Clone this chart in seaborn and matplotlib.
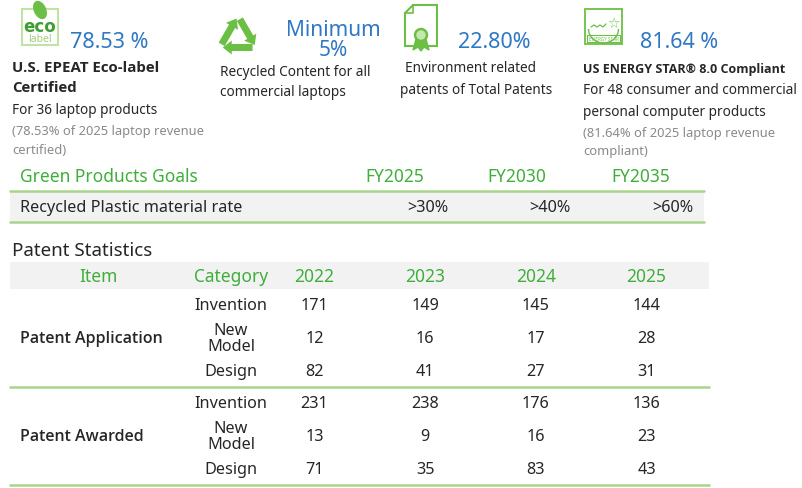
import numpy as np
import pandas as pd
import matplotlib
matplotlib.use("Agg")
import matplotlib.pyplot as plt
import seaborn as sns
from matplotlib.colors import ListedColormap
from matplotlib.patches import Rectangle, Circle, Polygon, Ellipse, Arc, FancyArrow

sns.set_theme(style="white")
plt.rcParams['font.family'] = ['Noto Sans', 'DejaVu Sans']

# ---- values ----
headline_values = ["78.53 %", "Minimum\n5%", "22.80%", "81.64 %"]
goal_item = "Recycled Plastic material rate"
goal_years = ["FY2025", "FY2030", "FY2035"]
goal_rates = [">30%", ">40%", ">60%"]
patent_years = ["2022", "2023", "2024", "2025"]
patent_items = ["Patent Application", "Patent Awarded"]
patent_categories = ["Invention", "New\nModel", "Design"]
application_counts = [[171, 149, 145, 144],
                      [12, 16, 17, 28],
                      [82, 41, 27, 31]]
awarded_counts = [[231, 238, 176, 136],
                  [13, 9, 16, 23],
                  [71, 35, 83, 43]]

idx = pd.MultiIndex.from_product([patent_items, patent_categories])
patents = pd.DataFrame(application_counts + awarded_counts, index=idx, columns=patent_years)

BLUE = "#2f78c4"
GREEN = "#3fae3a"
ICON = "#6cbf45"
LINE = "#a9d48c"
GREYBG = "#f2f2f2"
DARK = "#262626"
GREY = "#8a8a8a"
BODY = ['Noto Sans', 'DejaVu Sans']
BOLD = ['Open Sans', 'DejaVu Sans']

W, H = 803, 489
fig = plt.figure(figsize=(W / 100, H / 100), dpi=100)
ax = fig.add_axes([0, 0, 1, 1])
ax.set_xlim(0, W)
ax.set_ylim(H, 0)
ax.axis("off")

def txt(x, y, s, size, color=DARK, weight="normal", ha="left", family=None, **kw):
    if family is None:
        family = BOLD if weight not in ("normal", 400) else BODY
    ax.text(x, y, s, fontsize=size, color=color, fontweight=weight, ha=ha, va="center",
            family=family, **kw)

# ---- icons ----
# eco label
ax.add_patch(Rectangle((22, 10), 36, 36, fill=False, ec="#c3e3a2", lw=1.5))
ax.add_patch(Ellipse((40, 11), 11, 18, angle=-25, color=ICON))
txt(40, 27, "eco", 12, color="#3e9e34", weight="bold", ha="center", family="DejaVu Sans")
txt(40, 40, "label", 7.5, color="#9fd07c", ha="center")
# recycle: three arrows along a triangle
cx, cy, R = 238, 38, 21
pts = [(cx + R * np.cos(a), cy - R * np.sin(a)) for a in np.radians([90, -30, 210])]
for k in range(3):
    (ax_, ay_), (bx_, by_) = pts[k], pts[(k + 1) % 3]
    sx, sy = ax_ + 0.1 * (bx_ - ax_), ay_ + 0.1 * (by_ - ay_)
    ex, ey = ax_ + 0.92 * (bx_ - ax_), ay_ + 0.92 * (by_ - ay_)
    ax.add_patch(FancyArrow(sx, sy, ex - sx, ey - sy, width=7, head_width=14, head_length=9,
                            length_includes_head=True, color=ICON, lw=0))
# certificate
ax.add_patch(Polygon([[405, 14], [413, 6], [437, 6], [437, 47], [405, 47]], closed=True,
                     fill=False, ec=ICON, lw=1.5))
ax.plot([405, 413, 413], [14, 14, 6], color=ICON, lw=1.2)
ax.add_patch(Polygon([[416, 40], [413, 51], [418, 48], [421, 52], [421, 42]], color=ICON))
ax.add_patch(Polygon([[426, 40], [429, 51], [424, 48], [421, 52], [421, 42]], color=ICON))
ax.add_patch(Circle((421, 36), 6.5, color=ICON))
ax.add_patch(Circle((421, 36), 4, color="#c5e8ad"))
# energy star
ax.add_patch(Rectangle((585, 10), 37, 35, fill=False, ec=ICON, lw=1.3))
ax.add_patch(Arc((603.5, 30), 30, 28, theta1=0, theta2=180, color=ICON, lw=1))
ax.text(613, 24, "\u2606", fontsize=10, color=ICON, ha="center", va="center", family="DejaVu Sans")
ax.plot([591, 594, 597, 600, 603, 606], [28, 26, 28, 26, 28, 25], color=ICON, lw=0.9)
ax.add_patch(Rectangle((587, 36), 33, 7, fill=False, ec=ICON, lw=0.8))
ax.text(603.5, 39.6, "ENERGY STAR", fontsize=3.3, color=ICON, ha="center", va="center")

# ---- headline block ----
txt(70, 43, headline_values[0], 15.5, color=BLUE)
txt(12, 68, "U.S. EPEAT Eco-label", 10.8, weight="bold")
txt(12, 88, "Certified", 10.8, weight="bold")
txt(12, 111, "For 36 laptop products", 9.8)
txt(12, 132, "(78.53% of 2025 laptop revenue", 9.3, color=GREY)
txt(12, 150, "certified)", 9.3, color=GREY)

mn, pc = headline_values[1].split("\n")
txt(333, 30, mn, 15, color=BLUE, ha="center")
txt(333, 50, pc, 15, color=BLUE, ha="center")
txt(220, 73, "Recycled Content for all", 9.8)
txt(220, 92, "commercial laptops", 9.8)

txt(458, 42, headline_values[2], 15.5, color=BLUE)
txt(405, 68, "Environment related", 9.8)
txt(400, 90, "patents of Total Patents", 9.8)

txt(640, 43, headline_values[3], 15.5, color=BLUE)
txt(583, 69, "US ENERGY STAR\u00ae 8.0 Compliant", 9.0, weight="bold")
txt(583, 91, "For 48 consumer and commercial", 9.8)
txt(583, 113, "personal computer products", 9.8)
txt(583, 133, "(81.64% of 2025 laptop revenue", 9.3, color=GREY)
txt(583, 152, "compliant)", 9.3, color=GREY)

# ---- green products goals ----
ax.add_patch(Rectangle((10, 192), 694, 31, color=GREYBG, lw=0))
ax.plot([10, 704], [192, 192], color=LINE, lw=1.8)
ax.plot([10, 704], [223, 223], color=LINE, lw=1.8)
txt(20, 177, "Green Products Goals", 12.5, color=GREEN)
for x, yr in zip([395, 517, 641], goal_years):
    txt(x, 177, yr, 12.5, color=GREEN, ha="center")
txt(20, 208, goal_item, 11.7)
for x, r in zip([448, 571, 693], goal_rates):
    txt(x, 208, r, 11.7, ha="right")

# ---- patent statistics ----
txt(12, 251, "Patent Statistics", 13.5)
ax.add_patch(Rectangle((10, 263), 699, 27, color=GREYBG, lw=0))
txt(98, 277, "Item", 12.5, color=GREEN, ha="center")
txt(231, 277, "Category", 12.5, color=GREEN, ha="center")

top, bottom = 290, 486
row_h = (bottom - top) / len(patents)
ax.plot([10, 709], [top + 3 * row_h, top + 3 * row_h], color=LINE, lw=1.8)
ax.plot([10, 709], [bottom, bottom], color=LINE, lw=1.8)
for g, item in enumerate(patent_items):
    txt(20, top + (3 * g + 1.5) * row_h, item, 11.5, weight=600)
    for c, cat in enumerate(patent_categories):
        txt(231, top + (3 * g + c + 0.5) * row_h, cat, 11.7, ha="center", linespacing=1.05)

x0, x1 = 259, 702
hax = fig.add_axes([x0 / W, (H - bottom) / H, (x1 - x0) / W, (bottom - top) / H])
sns.heatmap(patents, ax=hax, cmap=ListedColormap([(1, 1, 1, 0)]), annot=True, fmt="d",
            cbar=False, annot_kws=dict(fontsize=11.7, color=DARK, family=BODY))
hax.set_facecolor("none")
hax.set_xticks([])
hax.set_yticks([])
hax.set_xlabel("")
hax.set_ylabel("")
for j, yr in enumerate(patents.columns):
    hax.text(j + 0.5, -0.4, yr, fontsize=12.5, color=GREEN, ha="center", va="center",
             family=BODY, clip_on=False)
for s in hax.spines.values():
    s.set_visible(False)

fig.savefig("out.png", dpi=100, facecolor="white")
